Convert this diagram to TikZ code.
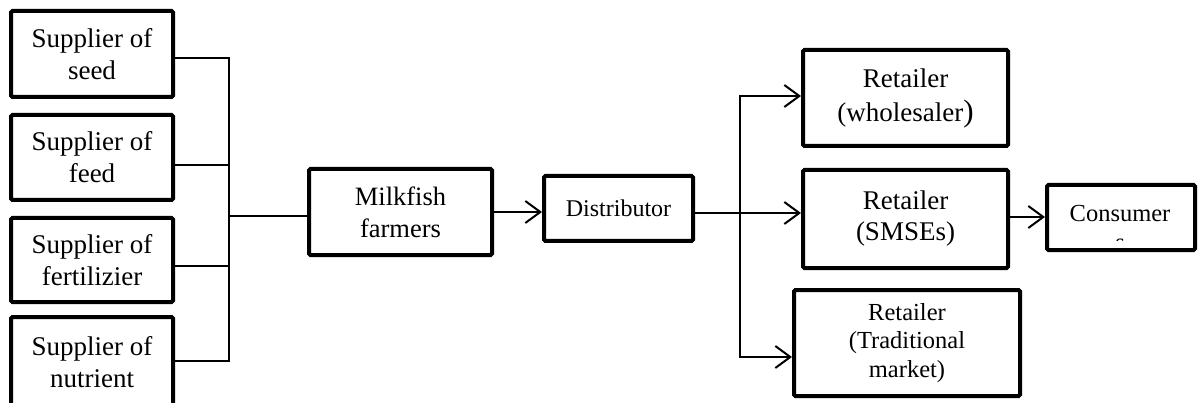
\documentclass[tikz,border=0pt]{standalone}
\usepackage{fontspec}
\setmainfont{Liberation Serif}
\usetikzlibrary{arrows.meta}
\begin{document}
\begin{tikzpicture}[x=1pt,y=-1pt,
  box/.style={draw, line width=4pt, rounded corners=1.5pt, align=center, inner sep=0pt, fill=white},
  big/.style={font=\fontsize{27}{32}\selectfont},
  mid/.style={font=\fontsize{24.5}{28.5}\selectfont},
  conn/.style={line width=2pt},
  tip/.tip={Straight Barb[length=15pt,width=22pt]},
  arr/.style={line width=2pt, -tip},
]
\useasboundingbox (0,0) rectangle (1198,403);
% suppliers
\node[box, big, minimum width=162, minimum height=86] (s1) at (92,54) {Supplier of\\seed};
\node[box, big, minimum width=162, minimum height=85] (s2) at (92,157.5) {Supplier of\\feed};
\node[box, big, minimum width=162, minimum height=84] (s3) at (92,260) {Supplier of\\fertilizier};
\node[box, big, minimum width=162, minimum height=90] (s4) at (92,362) {Supplier of\\nutrient};
% middle
\node[box, font=\fontsize{26.5}{32}\selectfont, minimum width=183, minimum height=86] (mf) at (400.5,212) {Milkfish\\farmers};
\node[box, font=\fontsize{24}{28}\selectfont, minimum width=149, minimum height=65] (dist) at (618.5,208.5) {Distributor};
% retailers
\node[box, font=\fontsize{27}{34}\selectfont, minimum width=205, minimum height=96] (whole) at (905.5,98) {Retailer\\(wholesaler{\fontsize{31}{34}\selectfont )}};
\node[box, font=\fontsize{27}{31}\selectfont, minimum width=205, minimum height=98] (smse) at (905.5,219) {Retailer\\(SMSEs)};
\node[box, mid, minimum width=226, minimum height=106] (trad) at (907,343) {Retailer\\(Traditional\\market)};
\node[box, minimum width=148, minimum height=65] (cons) at (1121,217.5) {};
\begin{scope}
  \clip ([xshift=2pt,yshift=-2pt]cons.north west) rectangle ([xshift=-2pt,yshift=11pt]cons.south east);
  \node[mid, anchor=base, inner sep=0pt] (ctext) at (1120,222) {Consumer};
  \node[mid, anchor=base, inner sep=0pt] (cs) at (1120,251) {s};
\end{scope}
% connectors
\coordinate (b1) at (229,58);
\coordinate (b2) at (229,165);
\coordinate (b3) at (229,266);
\coordinate (b4) at (229,361);
\coordinate (bm) at (229,216);
\draw[conn] (s1.east |- b1) -- (b1) -- (b4) -- (s4.east |- b4);
\draw[conn] (s2.east |- b2) -- (b2);
\draw[conn] (s3.east |- b3) -- (b3);
\draw[conn] (bm) -- (mf.west |- bm);
\draw[arr] (mf.east) -- (dist.west |- mf.east);
\coordinate (r0) at (740,213);
\coordinate (r1) at (740,96);
\coordinate (r3) at (740,357);
\coordinate (c0) at (1030,217);
\draw[arr] (dist.east |- r0) -- (smse.west |- r0);
\draw[conn, tip-tip] (whole.west |- r1) -- (r1) -- (r3) -- (trad.west |- r3);
\draw[arr] (smse.east |- c0) -- (cons.west |- c0);
\end{tikzpicture}
\end{document}
